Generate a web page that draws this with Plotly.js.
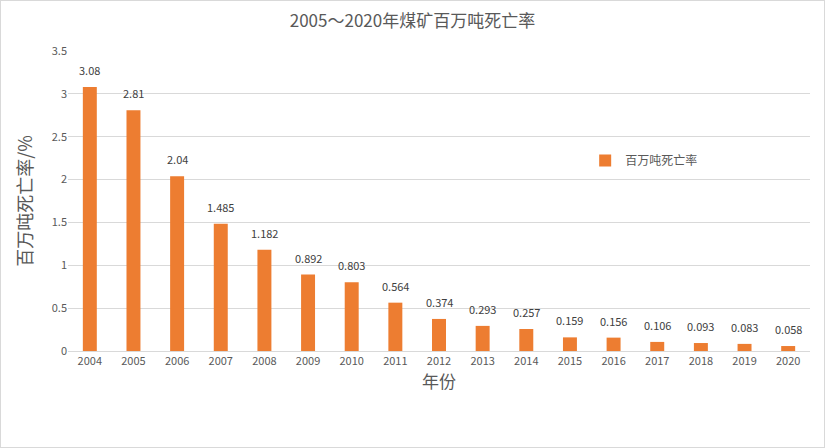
<!DOCTYPE html>
<html>
<head>
<meta charset="utf-8">
<script src="https://cdn.plot.ly/plotly-3.0.1.min.js"></script>
<style>
  html, body { margin: 0; padding: 0; background: #fff; }
  #chart { width: 823px; height: 446px; border: 1px solid #d9d9d9; }
</style>
</head>
<body>
<div id="chart"></div>
<script>
const years = ["2004", "2005", "2006", "2007", "2008", "2009", "2010", "2011", "2012",
               "2013", "2014", "2015", "2016", "2017", "2018", "2019", "2020"];
const deathRate = [3.08, 2.81, 2.04, 1.485, 1.182, 0.892, 0.803, 0.564, 0.374,
                   0.293, 0.257, 0.159, 0.156, 0.106, 0.093, 0.083, 0.058];
const labels = ["3.08", "2.81", "2.04", "1.485", "1.182", "0.892", "0.803", "0.564", "0.374",
                "0.293", "0.257", "0.159", "0.156", "0.106", "0.093", "0.083", "0.058"];
const yTicks = [0, 0.5, 1, 1.5, 2, 2.5, 3, 3.5];
const yTickText = ["0", "0.5", "1", "1.5", "2", "2.5", "3", "3.5"];

const fontFamily = "'Noto Sans CJK SC', 'Open Sans', sans-serif";

// value labels above each bar (category index on the x axis)
const valueLabels = years.map((yr, i) => ({
    x: i,
    y: deathRate[i],
    xref: "x",
    yref: "y",
    text: labels[i],
    showarrow: false,
    yanchor: "bottom",
    yshift: 7,
    font: { size: 11, color: "#404040", family: fontFamily }
}));

Plotly.newPlot("chart", [{
    x: years,
    y: deathRate,
    type: "bar",
    name: "百万吨死亡率",
    marker: { color: "#ED7D31" },
    hovertemplate: "%{x}: %{y}<extra></extra>"
}], {
    width: 823,
    height: 446,
    paper_bgcolor: "#ffffff",
    plot_bgcolor: "#ffffff",
    font: { family: fontFamily, color: "#595959" },
    title: {
        text: "2005～2020年煤矿百万吨死亡率",
        font: { size: 17, color: "#595959" },
        x: 0.5,
        xanchor: "center",
        y: 0.955,
        yanchor: "middle"
    },
    margin: { t: 50, l: 67, r: 14, b: 96 },
    bargap: 0.68,
    showlegend: true,
    legend: {
        x: 0.697,
        y: 0.635,
        xanchor: "left",
        yanchor: "middle",
        itemwidth: 30,
        font: { size: 12, color: "#595959" },
        bgcolor: "rgba(0,0,0,0)"
    },
    annotations: valueLabels,
    xaxis: {
        type: "category",
        range: [-0.5, years.length - 0.5],
        tickfont: { size: 11, color: "#595959" },
        showgrid: false,
        showline: true,
        linecolor: "#d9d9d9",
        ticks: "",
        title: { text: "年份", font: { size: 17, color: "#595959" }, standoff: 7 }
    },
    yaxis: {
        range: [0, 3.5],
        tickvals: yTicks,
        ticktext: yTickText,
        tickfont: { size: 11, color: "#595959" },
        gridcolor: "#d9d9d9",
        zeroline: false,
        ticks: "",
        ticklen: 0,
        title: { text: "百万吨死亡率/%", font: { size: 18, color: "#595959" }, standoff: 14 }
    }
}, { displayModeBar: false });
</script>
</body>
</html>
